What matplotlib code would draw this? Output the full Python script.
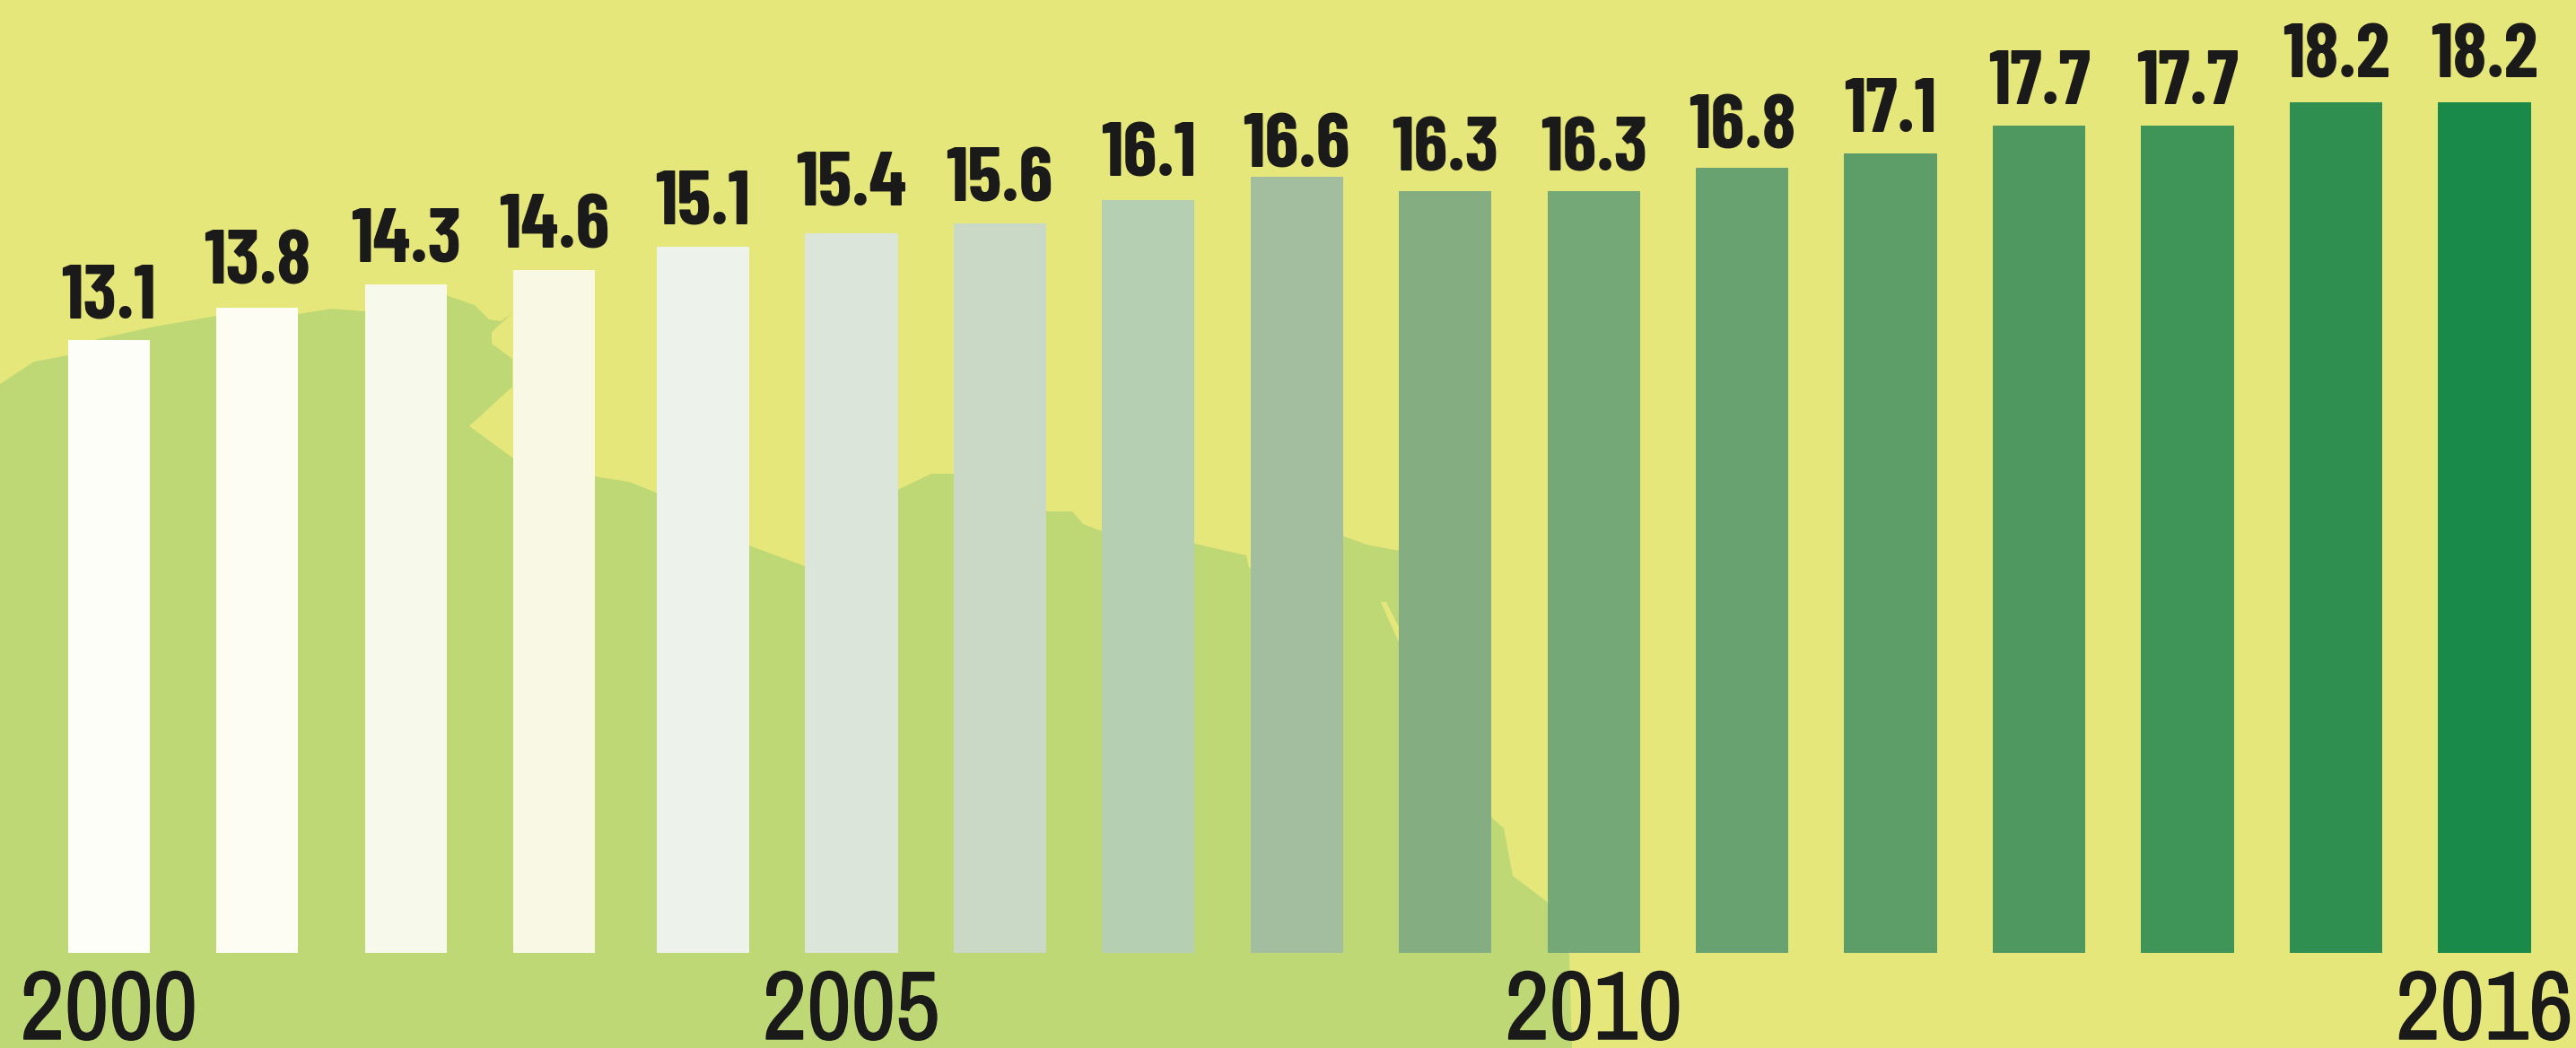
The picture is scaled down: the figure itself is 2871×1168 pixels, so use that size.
import matplotlib
matplotlib.use('Agg')
import matplotlib.pyplot as plt
import matplotlib.patheffects as pe
from matplotlib.patches import Polygon
from matplotlib.transforms import Affine2D

years = list(range(2000, 2017))
values = [13.1, 13.8, 14.3, 14.6, 15.1, 15.4, 15.6, 16.1, 16.6, 16.3, 16.3, 16.8, 17.1, 17.7, 17.7, 18.2, 18.2]
year_ticks = [2000, 2005, 2010, 2016]

bar_colors = ['#FEFEF8', '#FEFDF3', '#F7F9EA', '#F8F8E4', '#EDF2EB', '#DCE5DA', '#C9D9C6', '#B5CFB3', '#A2BE9E',
              '#84AE82', '#75A877', '#68A270', '#5D9D68', '#4F9860', '#3F9458', '#2E8F50', '#1A8A4A']
bar_widths = [0.55, 0.55, 0.55, 0.55] + [0.625] * 13
# gap between bar top and label baseline, pixels (the labels are not set evenly in the original)
label_gaps = [25, 26, 25, 25, 26, 31, 25, 27, 11, 22, 22, 21, 24, 24, 24, 27, 27]

# coast outline of the map behind the bars, in image pixels
coast = [(0, 428), (38, 403), (76, 396), (108, 378), (172, 364), (242, 352), (332, 350), (370, 344), (407, 347),
         (497, 329), (529, 340), (545, 356), (558, 358), (571, 349), (548, 370), (548, 383), (571, 400), (571, 431),
         (523, 475), (571, 510), (663, 531), (701, 537), (731, 549), (835, 608), (897, 631), (1000, 546),
         (1038, 528), (1062, 528), (1166, 570), (1195, 570), (1207, 584), (1228, 592), (1332, 606), (1389, 619),
         (1392, 633), (1496, 597), (1523, 607), (1560, 614), (1663, 912), (1676, 923), (1686, 976), (1724, 1005),
         (1749, 1064), (1752, 1168), (0, 1168)]
streak = [(1539, 671), (1545, 671), (1560, 701), (1560, 718)]

fig = plt.figure(figsize=(28.71, 11.68), dpi=100, facecolor='#E6E77B')
ax = fig.add_axes([0, 0, 1, 1])
ax.set_facecolor('#E6E77B')

# pixel coordinates, y going down
img = Affine2D().scale(1, -1).translate(0, 1168)
ax.add_patch(Polygon(coast, closed=True, fc='#BED876', ec='none', transform=img, zorder=1))
ax.add_patch(Polygon(streak, closed=True, fc='#E6E77B', ec='none', transform=img, zorder=1))

ax.bar(years, values, width=bar_widths, color=bar_colors, zorder=2)

ink = '#1a1a1a'
label_font = ['Barlow Condensed', 'Roboto Condensed', 'Liberation Sans', 'DejaVu Sans']
year_font = ['Archivo Narrow', 'Roboto Condensed', 'Liberation Sans', 'DejaVu Sans']
for y, v, gap in zip(years, values, label_gaps):
    ax.annotate(f'{v:.1f}', (y, v), xytext=(0, gap * 0.72), textcoords='offset points', ha='center',
                va='baseline', fontsize=62, fontweight='bold', color=ink, family=label_font, zorder=3)

for y in year_ticks:
    ax.annotate(str(y), (y, 0), xytext=(0, -69), textcoords='offset points', ha='center', va='baseline',
                fontsize=78, color=ink, family=year_font, zorder=3,
                path_effects=[pe.withStroke(linewidth=1, foreground=ink)])

ax.set_xlim(1999.266, 2016.616)
ax.set_ylim(-2.03, 20.38)
ax.axis('off')

fig.savefig('out.png', dpi=100, facecolor=fig.get_facecolor())
